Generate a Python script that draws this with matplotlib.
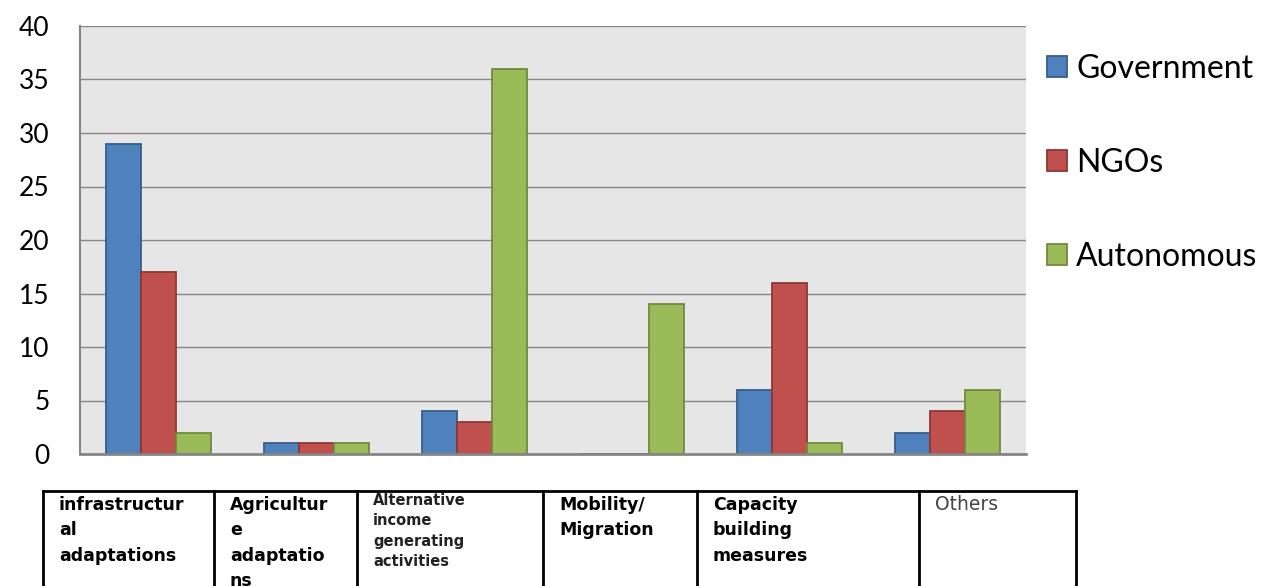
import matplotlib
matplotlib.use("Agg")
import matplotlib.pyplot as plt
import numpy as np
from matplotlib.lines import Line2D

categories = ["infrastructur\nal\nadaptations", "Agricultur\ne\nadaptatio\nns",
              "Alternative\nincome\ngenerating\nactivities", "Mobility/\nMigration",
              "Capacity\nbuilding\nmeasures", "Others"]
series_names = ["Government", "NGOs", "Autonomous"]
government = [29, 1, 4, 0, 6, 2]
ngos = [17, 1, 3, 0, 16, 4]
autonomous = [2, 1, 36, 14, 1, 6]
y_ticks = [0, 5, 10, 15, 20, 25, 30, 35, 40]

W, H = 1272, 586
fig = plt.figure(figsize=(W / 100, H / 100), dpi=100)
fig.patch.set_facecolor("white")

def fx(px):
    return px / W

def fy(py):
    return 1 - py / H

ax = fig.add_axes([fx(80), fy(454), fx(1026) - fx(80), fy(26) - fy(454)])
ax.set_facecolor("#e6e6e6")

colors = ["#4f81bd", "#c0504d", "#9bbb59"]
edges = ["#385d8a", "#8c3836", "#71893f"]
values = [government, ngos, autonomous]
x = np.arange(len(categories))
bw = 0.222
for i, (vals, c, e, name) in enumerate(zip(values, colors, edges, series_names)):
    ax.bar(x + (i - 1) * bw, vals, width=bw, color=c, edgecolor=e, linewidth=1.3,
           label=name, zorder=3)

ax.set_xlim(-0.5, len(categories) - 0.5)
ax.set_ylim(0, 40)
ax.set_yticks(y_ticks)
ax.set_yticklabels([str(v) for v in y_ticks], fontsize=19, family="Lato")
ax.tick_params(axis="y", length=0, pad=22)
ax.tick_params(axis="x", length=0, labelbottom=False)
ax.yaxis.grid(True, color="#868686", linewidth=1.0, zorder=0)
ax.set_axisbelow(True)
ax.spines["right"].set_visible(False)
ax.spines["top"].set_visible(False)
ax.spines["left"].set_color("#868686")
ax.spines["left"].set_linewidth(1.5)
ax.spines["bottom"].set_color("#868686")
ax.spines["bottom"].set_linewidth(2)
ax.spines["bottom"].set_zorder(4)

leg = ax.legend(loc="upper left", bbox_to_anchor=(fx(1018), fy(25)),
                bbox_transform=fig.transFigure, frameon=False,
                prop={"family": "Lato", "size": 23},
                handlelength=0.62, handleheight=0.62, handletextpad=0.3,
                labelspacing=2.0)

# table of category labels below the chart
col_edges = [43, 214, 357, 543, 697, 919, 1076]
top = 491
fig.add_artist(Line2D([fx(col_edges[0]), fx(col_edges[-1])], [fy(top), fy(top)],
                      transform=fig.transFigure, color="black", linewidth=2))
for xe in col_edges:
    fig.add_artist(Line2D([fx(xe), fx(xe)], [fy(top), fy(H + 5)],
                          transform=fig.transFigure, color="black", linewidth=2))

styles = [
    dict(size=12.5, weight="bold", color="black", ls=1.52, dy=496),
    dict(size=12.5, weight="bold", color="black", ls=1.52, dy=496),
    dict(size=10.5, weight="bold", color="#222222", ls=1.45, dy=493),
    dict(size=12.5, weight="bold", color="black", ls=1.52, dy=496),
    dict(size=12.5, weight="bold", color="black", ls=1.52, dy=496),
    dict(size=13.5, weight="normal", color="#444444", ls=1.52, dy=495),
]
for i, (lab, st) in enumerate(zip(categories, styles)):
    fig.text(fx(col_edges[i] + 16), fy(st["dy"]), lab, ha="left", va="top",
             fontsize=st["size"], fontweight=st["weight"], color=st["color"],
             family="DejaVu Sans", linespacing=st["ls"])

fig.savefig("out.png", dpi=100)
